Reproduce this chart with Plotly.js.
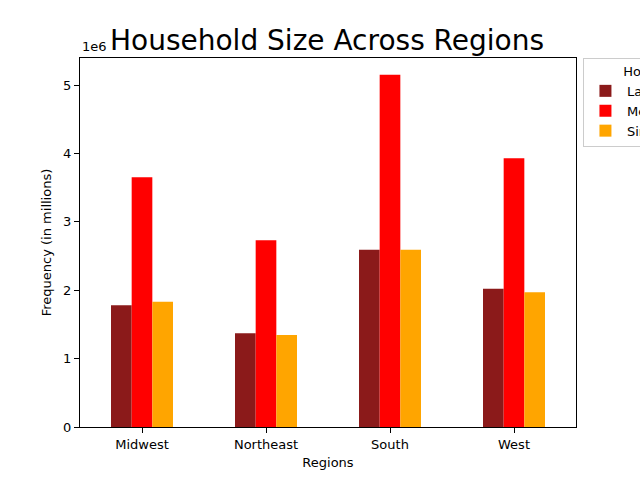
<!DOCTYPE html>
<html>
<head>
<meta charset="utf-8">
<script src="https://cdn.plot.ly/plotly-3.0.1.min.js"></script>
<style>html,body{margin:0;padding:0;background:#fff;}#chart{width:640px;height:480px;}</style>
</head>
<body>
<div id="chart"></div>
<script>
const regions = ["Midwest", "Northeast", "South", "West"];
const seriesNames = ["Large", "Medium", "Single"];
const largeValues = [1780000, 1370000, 2590000, 2020000];
const mediumValues = [3650000, 2730000, 5150000, 3930000];
const singleValues = [1830000, 1345000, 2590000, 1970000];
const seriesColors = ["#8B1A1A", "#FF0000", "#FFA500"];
const yTickVals = [0, 1000000, 2000000, 3000000, 4000000, 5000000];
const yTickText = ["0", "1", "2", "3", "4", "5"];
const legendTitle = "Household Size";

const allValues = [largeValues, mediumValues, singleValues];
const traces = allValues.map((vals, i) => ({
  type: "bar",
  name: seriesNames[i],
  x: regions,
  y: vals,
  marker: {color: seriesColors[i], line: {width: 0}},
  hoverinfo: "skip"
}));

const font = {family: "DejaVu Sans, sans-serif", color: "#000"};
const layout = {
  width: 640, height: 480,
  margin: {l: 80, r: 64, t: 58, b: 53, pad: 0, autoexpand: false},
  paper_bgcolor: "#fff", plot_bgcolor: "#fff",
  font: Object.assign({size: 13}, font),
  title: {text: "Household Size Across Regions", font: Object.assign({size: 28}, font), x: 0.511, xanchor: "center", y: 0.917, yanchor: "middle"},
  barmode: "group",
  bargap: 0.5, bargroupgap: 0,
  showlegend: true,
  legend: {
    x: 1.014, y: 1, xanchor: "left", yanchor: "top",
    bordercolor: "#cccccc", borderwidth: 1, bgcolor: "#fff",
    font: Object.assign({size: 13}, font),
    title: {text: "\u00a0\u00a0\u00a0\u00a0\u00a0\u00a0\u00a0\u00a0\u00a0" + legendTitle, side: "top", font: Object.assign({size: 13}, font)},
    itemwidth: 33, tracegroupgap: 2
  },
  xaxis: {
    type: "category", range: [-0.5, 3.5],
    showline: true, mirror: true, linecolor: "#000", linewidth: 1,
    ticks: "outside", ticklen: 5, tickcolor: "#000", tickwidth: 1,
    showgrid: false, zeroline: false,
    tickfont: Object.assign({size: 13}, font),
    title: {text: "Regions", font: Object.assign({size: 13}, font), standoff: 7}
  },
  yaxis: {
    range: [0, 5395000],
    tickvals: yTickVals, ticktext: yTickText,
    showline: true, mirror: true, linecolor: "#000", linewidth: 1,
    ticks: "outside", ticklen: 5, tickcolor: "#000", tickwidth: 1,
    showgrid: false, zeroline: false,
    tickfont: Object.assign({size: 13}, font),
    title: {text: "Frequency (in millions)", font: Object.assign({size: 13}, font), standoff: 8}
  },
  annotations: [{
    text: "1e6", xref: "paper", yref: "paper", x: 0, y: 1, xanchor: "left", yanchor: "bottom",
    yshift: 2, showarrow: false, font: Object.assign({size: 13}, font)
  }]
};

Plotly.newPlot("chart", traces, layout, {displayModeBar: false, staticPlot: true});
</script>
</body>
</html>
